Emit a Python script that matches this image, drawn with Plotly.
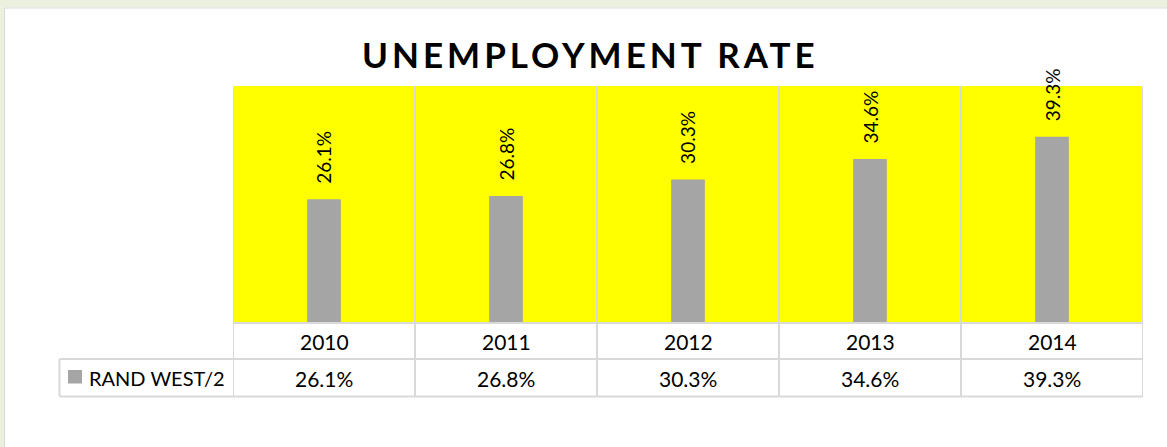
import plotly.graph_objects as go

# Unemployment rate, Rand West (series "RAND WEST/2")
years = ["2010", "2011", "2012", "2013", "2014"]
rates = [26.1, 26.8, 30.3, 34.6, 39.3]
series_name = "RAND WEST/2"
chart_title = "UNEMPLOYMENT RATE"

W, H = 1167, 447
BAR = "#A5A5A5"
GRID = "#D9D9D9"
FONT = "Lato"


def px(x):
    return x / W


def py(y):
    return 1 - y / H


labels = [f"{v:.1f}%" for v in rates]

fig = go.Figure(
    go.Bar(
        x=years,
        y=rates,
        width=0.185,
        marker=dict(color=BAR, line=dict(width=0)),
        hoverinfo="skip",
    )
)

shapes = []
# outer frame band
shapes.append(dict(type="rect", xref="paper", yref="paper", x0=0, x1=1, y0=py(7.5), y1=1,
                   fillcolor="#EBF1DE", line=dict(width=0), layer="below"))
shapes.append(dict(type="rect", xref="paper", yref="paper", x0=0, x1=px(4), y0=0, y1=1,
                   fillcolor="#EBF1DE", line=dict(width=0), layer="below"))
shapes.append(dict(type="line", xref="paper", yref="paper", x0=px(4.5), x1=1, y0=py(8), y1=py(8),
                   line=dict(color=GRID, width=1)))
shapes.append(dict(type="line", xref="paper", yref="paper", x0=px(4.5), x1=px(4.5), y0=0, y1=py(8),
                   line=dict(color=GRID, width=1)))

# category separators running through the plot area and the data table
for k in range(len(years) + 1):
    xs = k - 0.5
    shapes.append(dict(type="line", xref="x", yref="paper", x0=xs, x1=xs,
                       y0=py(396.5), y1=py(86), line=dict(color=GRID, width=2)))

# data table rules
for yy in (323, 359, 396.5):
    shapes.append(dict(type="line", xref="x", yref="paper", x0=-0.5, x1=len(years) - 0.5,
                       y0=py(yy), y1=py(yy), line=dict(color=GRID, width=2)))
for yy in (359, 396.5):
    shapes.append(dict(type="line", xref="paper", yref="paper", x0=px(59.5), x1=px(233),
                       y0=py(yy), y1=py(yy), line=dict(color=GRID, width=2)))
shapes.append(dict(type="line", xref="paper", yref="paper", x0=px(59.5), x1=px(59.5),
                   y0=py(396.5), y1=py(359), line=dict(color=GRID, width=2)))
# legend key
shapes.append(dict(type="rect", xref="paper", yref="paper", x0=px(68), x1=px(82),
                   y0=py(383.5), y1=py(370), fillcolor=BAR, line=dict(width=0)))

annotations = []
annotations.append(dict(
    xref="paper", yref="paper", x=px(590), y=py(54.5), xanchor="center", yanchor="middle",
    text=f'<span style="letter-spacing:4px">{chart_title}</span>', showarrow=False,
    font=dict(family=FONT, size=35, color="#000000", weight="bold"),
))
# rotated value labels above each bar (category axis: positions by index)
for i, (v, lab) in enumerate(zip(rates, labels)):
    annotations.append(dict(
        xref="x", yref="y", x=i, y=v, xanchor="center", yanchor="bottom",
        text=lab, textangle=-90, showarrow=False, yshift=13,
        font=dict(family=FONT, size=19, color="#000000"),
    ))
# table rows
for i, (yr, lab) in enumerate(zip(years, labels)):
    annotations.append(dict(
        xref="x", yref="paper", x=i, y=py(341), xanchor="center", yanchor="middle",
        text=yr, showarrow=False, font=dict(family=FONT, size=21, color="#000000"),
    ))
    annotations.append(dict(
        xref="x", yref="paper", x=i, y=py(378), xanchor="center", yanchor="middle",
        text=lab, showarrow=False, font=dict(family=FONT, size=21, color="#000000"),
    ))
annotations.append(dict(
    xref="paper", yref="paper", x=px(87), y=py(377.5), xanchor="left", yanchor="middle",
    text=series_name, showarrow=False, font=dict(family=FONT, size=20, color="#000000"),
))

fig.update_layout(
    width=W, height=H,
    margin=dict(l=0, r=0, t=0, b=0),
    paper_bgcolor="#FFFFFF",
    plot_bgcolor="#FFFF00",
    showlegend=False,
    xaxis=dict(domain=[px(233), px(1143)], visible=False, type="category", range=[-0.5, 4.5]),
    yaxis=dict(domain=[py(323), py(86)], visible=False, range=[0, 50]),
    shapes=shapes,
    annotations=annotations,
    font=dict(family=FONT),
)

fig.write_html("out.html")
